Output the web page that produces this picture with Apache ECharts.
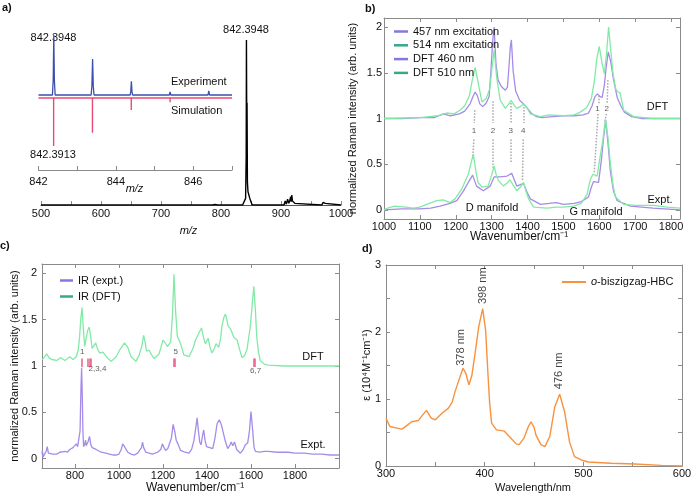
<!DOCTYPE html>
<html><head><meta charset="utf-8">
<script src="https://cdn.jsdelivr.net/npm/echarts@6/dist/echarts.min.js"></script>
<style>html,body{margin:0;padding:0;background:#fff}#c{width:692px;height:496px}</style>
</head><body><div id="c"></div>
<script>
const FONT = '"Liberation Sans", Arial, Helvetica, sans-serif';

// ---------- panel a : mass spectrum ----------
const aMain = [[500,0],[643,0],[645,0.008],[647,0],[714,0],[716,0.005],[718,0],[786,0],[788,0.006],[790,0.003],[792,0.006],[794,0],
  [836,0],[839,0.01],[841,0.04],[842,0.3],[842.4,1.0],[843,0.4],[843.4,0.62],[844,0.14],[845,0.08],[846,0.07],[848,0.04],[850,0.02],[852,0],
  [905,0],[907,0.025],[909,0.005],[911,0.035],[913,0.01],[915,0.03],[916,0.05],[917,0.02],[918,0.06],[919,0.025],[921,0.03],[923,0.01],[925,0],
  [968,0],[970,0.015],[972,0.005],[974,0.01],[976,0],[1000,0]];
const aExp = [[842,0],[842.36,0],[842.38,0.25],[842.395,1.0],[842.41,0.25],[842.43,0],
  [843.36,0],[843.38,0.15],[843.398,0.6],[843.415,0.15],[843.435,0],
  [844.37,0],[844.385,0.06],[844.40,0.23],[844.415,0.06],[844.43,0],
  [845.38,0],[845.40,0.05],[845.42,0],[846.38,0],[846.40,0.07],[846.42,0],[847,0]];
const aSimMz = [842.391, 843.394, 844.397, 845.400];
const aSimInt = [0.80, 0.58, 0.20, 0.07];
const aSimBase = -0.05;
const aMainTicks = [500,550,600,650,700,750,800,850,900,950,1000];
const aMainLabels = [500,600,700,800,900,1000];
const aInsetTicks = [842,843,844,845,846,847];
const aInsetLabels = [842,844,846];

// ---------- panel b : Raman ----------
const bDft460 = [[1000,1.00],[1050,1.00],[1100,1.01],[1140,1.01],[1165,1.05],[1185,1.03],[1210,1.05],[1225,1.08],[1240,1.16],[1248,1.24],
  [1254,1.29],[1260,1.25],[1267,1.16],[1275,1.13],[1285,1.17],[1293,1.24],[1298,1.52],[1303,1.85],[1307,2.00],[1312,1.60],
  [1318,1.42],[1327,1.35],[1338,1.31],[1344,1.34],[1348,1.55],[1352,1.78],[1355,1.86],[1360,1.52],[1367,1.30],[1378,1.20],
  [1389,1.16],[1398,1.12],[1410,1.06],[1425,1.02],[1440,1.01],[1470,1.02],[1500,1.03],[1530,1.03],[1555,1.04],[1570,1.06],
  [1580,1.14],[1588,1.24],[1595,1.27],[1602,1.24],[1608,1.23],[1614,1.36],[1619,1.55],[1625,1.73],[1632,1.62],[1640,1.42],
  [1650,1.23],[1660,1.14],[1670,1.07],[1690,1.02],[1720,1.00],[1825,1.00]];
const bDft510 = [[1000,1.00],[1100,1.01],[1150,1.03],[1175,1.06],[1195,1.05],[1212,1.09],[1225,1.14],[1238,1.25],[1246,1.42],[1254,1.56],
  [1262,1.40],[1273,1.18],[1285,1.22],[1295,1.33],[1301,1.55],[1307,1.75],[1314,1.45],[1324,1.20],[1338,1.11],[1348,1.16],
  [1354,1.20],[1362,1.15],[1370,1.11],[1380,1.13],[1389,1.16],[1398,1.12],[1408,1.05],[1436,1.02],[1460,1.04],[1500,1.03],
  [1530,1.04],[1547,1.07],[1565,1.12],[1578,1.22],[1586,1.40],[1593,1.65],[1600,1.79],[1607,1.62],[1614,1.49],[1620,1.70],
  [1626,2.00],[1632,1.75],[1638,1.50],[1646,1.32],[1652,1.29],[1658,1.28],[1668,1.09],[1696,1.02],[1750,1.00],[1825,1.00]];
const b457 = [[1000,0.00],[1050,0.01],[1100,0.01],[1130,0.02],[1156,0.04],[1184,0.07],[1203,0.10],[1222,0.21],[1235,0.30],[1247,0.38],
  [1258,0.26],[1277,0.21],[1296,0.26],[1307,0.36],[1324,0.36],[1343,0.37],[1356,0.40],[1370,0.26],[1382,0.28],[1389,0.29],
  [1400,0.18],[1408,0.12],[1436,0.06],[1460,0.07],[1480,0.08],[1500,0.06],[1530,0.07],[1550,0.09],[1570,0.14],[1578,0.25],
  [1584,0.31],[1598,0.30],[1606,0.55],[1612,0.79],[1618,0.98],[1625,0.70],[1631,0.42],[1640,0.20],[1650,0.10],[1687,0.04],
  [1750,0.02],[1825,0.00]];
const b514 = [[1000,0.00],[1010,0.02],[1030,0.04],[1060,0.03],[1082,0.02],[1100,0.03],[1119,0.06],[1147,0.10],[1165,0.11],[1184,0.08],
  [1198,0.12],[1217,0.23],[1235,0.39],[1243,0.52],[1249,0.61],[1255,0.45],[1262,0.30],[1273,0.25],[1290,0.26],[1300,0.38],
  [1307,0.48],[1313,0.38],[1319,0.32],[1333,0.26],[1345,0.30],[1351,0.33],[1360,0.27],[1370,0.21],[1380,0.25],[1389,0.30],
  [1396,0.20],[1403,0.12],[1417,0.03],[1454,0.02],[1480,0.03],[1500,0.03],[1528,0.04],[1550,0.07],[1566,0.17],[1575,0.33],
  [1582,0.39],[1594,0.37],[1603,0.60],[1610,0.76],[1617,0.99],[1624,0.80],[1631,0.50],[1638,0.28],[1645,0.14],[1668,0.06],
  [1700,0.05],[1750,0.05],[1790,0.03],[1825,0.02]];
const bGuide = [[1253,1.09,1251.5,0.95],[1250.5,0.77,1247.5,0.56],[1304,1.19,1304,0.95],[1304,0.77,1304,0.46],
  [1353,1.17,1353,0.95],[1353,0.77,1353,0.52],[1389,1.16,1388.5,0.95],[1388,0.77,1386,0.32],
  [1598.5,1.25,1597.5,1.16],[1596.5,1.05,1586,0.41],[1624,1.42,1622,1.16],[1620,1.05,1615,0.96]];
const bModeLabels = [[1251,0.86,'1'],[1304,0.86,'2'],[1353,0.86,'3'],[1388,0.86,'4'],[1595,1.11,'1'],[1620.6,1.11,'2']];
const bXTicks = [1000,1100,1200,1300,1400,1500,1600,1700,1800];
const bYTicks = [0,0.5,1,1.5,2];

// ---------- panel c : IR ----------
const cDft = [[650,1.07],[660,1.09],[671,1.13],[682,1.09],[694,1.07],[717,1.06],[734,1.09],[754,1.06],[776,1.10],[791,1.07],
  [806,1.10],[815,1.18],[821,1.32],[826,1.50],[832,1.63],[838,1.40],[844,1.21],[849,1.28],[857,1.38],[865,1.42],
  [871,1.32],[878,1.19],[886,1.22],[894,1.25],[903,1.18],[912,1.14],[927,1.15],[942,1.10],[964,1.05],[987,1.10],
  [1005,1.18],[1025,1.25],[1040,1.20],[1055,1.10],[1077,1.05],[1092,1.12],[1104,1.22],[1112,1.33],[1120,1.24],[1125,1.16],
  [1137,1.17],[1148,1.12],[1160,1.08],[1182,1.13],[1193,1.22],[1200,1.28],[1210,1.25],[1220,1.21],[1235,1.26],[1243,1.55],
  [1250,1.99],[1257,1.60],[1265,1.32],[1280,1.24],[1295,1.12],[1318,1.10],[1335,1.18],[1348,1.28],[1362,1.35],[1375,1.41],
  [1385,1.30],[1393,1.24],[1405,1.30],[1414,1.20],[1423,1.14],[1435,1.20],[1441,1.24],[1453,1.20],[1462,1.30],[1468,1.43],
  [1476,1.52],[1484,1.56],[1490,1.50],[1496,1.43],[1507,1.40],[1522,1.31],[1537,1.28],[1548,1.18],[1559,1.09],[1570,1.11],
  [1582,1.18],[1597,1.43],[1605,1.65],[1613,1.86],[1620,1.60],[1626,1.32],[1634,1.15],[1642,1.06],[1660,1.02],[1679,1.01],
  [1750,1.00],[1850,1.00],[2000,1.00]];
const cExp = [[650,0.05],[652,0.09],[655,0.02],[664,0.04],[669,0.08],[674,0.13],[679,0.06],[686,0.04],[700,0.05],[717,0.05],
  [731,0.07],[740,0.05],[754,0.08],[765,0.07],[776,0.10],[791,0.12],[800,0.12],[806,0.16],[812,0.13],[818,0.12],
  [823,0.30],[827,0.75],[830,0.98],[833,0.70],[836,0.30],[839,0.13],[844,0.16],[848,0.20],[851,0.14],[854,0.12],
  [859,0.18],[866,0.24],[872,0.15],[878,0.12],[887,0.13],[896,0.10],[905,0.09],[919,0.07],[940,0.06],[957,0.05],
  [975,0.04],[987,0.04],[1000,0.05],[1010,0.10],[1017,0.16],[1025,0.13],[1040,0.07],[1055,0.05],[1070,0.04],[1085,0.06],
  [1092,0.07],[1102,0.12],[1107,0.18],[1112,0.12],[1122,0.07],[1137,0.06],[1152,0.05],[1175,0.07],[1190,0.10],[1197,0.16],
  [1205,0.12],[1212,0.09],[1222,0.11],[1230,0.13],[1238,0.22],[1246,0.37],[1253,0.30],[1260,0.20],[1268,0.16],[1280,0.09],
  [1300,0.07],[1318,0.06],[1330,0.10],[1341,0.20],[1350,0.35],[1355,0.44],[1361,0.30],[1367,0.18],[1373,0.15],[1379,0.24],
  [1385,0.31],[1391,0.20],[1398,0.13],[1412,0.12],[1426,0.11],[1436,0.22],[1446,0.38],[1456,0.42],[1466,0.36],[1474,0.34],
  [1482,0.20],[1494,0.11],[1503,0.14],[1510,0.18],[1517,0.14],[1525,0.18],[1535,0.10],[1552,0.06],[1565,0.10],[1574,0.15],
  [1585,0.17],[1593,0.30],[1600,0.51],[1607,0.32],[1614,0.12],[1620,0.08],[1640,0.07],[1660,0.08],[1679,0.08],[1720,0.07],
  [1769,0.07],[1800,0.06],[1844,0.06],[1880,0.05],[1920,0.05],[1960,0.04],[2000,0.04]];
const cModeW = [832,859,865,871,1248,1252,1611,1615];
const cModeLo = 0.99, cModeHi = 1.08;
const cModeLabels = [[833,1.15,'1'],[1258,1.15,'5'],[902,0.97,'2,3,4'],[1621,0.95,'6,7']];
const cXTicks = [800,1000,1200,1400,1600,1800];
const cYTicks = [0,0.5,1,1.5,2];

// ---------- panel d : UV-vis ----------
const dAbs = [[300,0.71],[304,0.59],[310,0.57],[316,0.55],[319,0.58],[326,0.66],[333,0.68],[336,0.74],[341,0.83],[346,0.71],
  [350,0.69],[357,0.79],[363,0.86],[367,0.95],[370,1.11],[375,1.33],[378,1.46],[381,1.38],[384,1.21],[387,1.35],
  [390,1.65],[394,2.08],[398,2.35],[401,2.02],[403,1.46],[405,0.95],[407,0.64],[412,0.54],[420,0.52],[425,0.44],
  [432,0.33],[435,0.32],[440,0.42],[444,0.58],[447,0.66],[450,0.58],[452,0.46],[457,0.32],[461,0.29],[466,0.44],
  [471,0.88],[476,1.07],[481,0.81],[486,0.36],[491,0.14],[498,0.09],[505,0.06],[528,0.04],[552,0.03],[579,0.01],[600,0.0]];
const dPeakLabels = [[376,1.77,'378 nm'],[397.8,2.69,'398 nm'],[475.8,1.42,'476 nm']];
const dXTicks = [300,350,400,450,500,550,600];
const dXLabels = [300,400,500,600];
const dYTicks = [0,0.5,1,1.5,2,2.5,3];
const dYLabels = [0,1,2,3];

// ---------- colours ----------
const PURPLE = '#a58ce8', GREEN = '#82eaa6', ORANGE = '#f7923f';
const PURPLE_LEG = '#8676e2', GREEN_LEG = '#38a88a';
const AX = '#8a8a8a';

// ---------- builders ----------
const simLine = [[842, aSimBase]];
aSimMz.forEach((m, i) => { simLine.push([m, aSimBase], [m, aSimBase - aSimInt[i]], [m, aSimBase]); });
simLine.push([847, aSimBase]);

const plain = v => String(v);
function lab(values, margin) {
  return { show: true, customValues: values, fontSize: 11, color: '#111', fontFamily: FONT, margin, formatter: plain };
}
function xAx(grid, min, max, ticks, labels, opt = {}) {
  return Object.assign({
    gridIndex: grid, type: 'value', min, max, position: 'bottom',
    axisLine: { show: true, onZero: false, lineStyle: { color: AX, width: 1 } },
    axisTick: { show: true, inside: true, length: 4, customValues: ticks, lineStyle: { color: AX } },
    axisLabel: labels ? lab(labels, 3) : { show: false },
    splitLine: { show: false }
  }, opt);
}
function yAx(grid, min, max, ticks, labels, opt = {}) {
  return Object.assign({
    gridIndex: grid, type: 'value', min, max, position: 'left',
    axisLine: { show: true, onZero: false, lineStyle: { color: AX, width: 1 } },
    axisTick: { show: true, inside: true, length: 4, customValues: ticks, lineStyle: { color: AX } },
    axisLabel: labels ? lab(labels, 4) : { show: false },
    splitLine: { show: false }
  }, opt);
}
function line(name, data, xi, yi, color, width, z) {
  return { name, type: 'line', data, xAxisIndex: xi, yAxisIndex: yi, symbol: 'none', showSymbol: false,
    lineStyle: { color, width }, itemStyle: { color }, z: z || 2, silent: true, animation: false };
}
function txt(x, y, text, o = {}) {
  return { type: 'text', x, y, rotation: o.rot || 0, silent: true,
    style: { text, fill: o.color || '#111', font: (o.style || '') + ' ' + (o.weight || 'normal') + ' ' + (o.size || 11) + 'px ' + FONT,
      align: o.align || 'center', verticalAlign: 'middle' } };
}
function labelSeries(data, xi, yi, size, color, rot) {
  return { type: 'scatter', xAxisIndex: xi, yAxisIndex: yi, data, symbolSize: 1, itemStyle: { color: 'rgba(0,0,0,0)' },
    silent: true, animation: false, z: 5,
    label: { show: true, position: 'inside', formatter: p => p.value[2], fontSize: size, color, fontFamily: FONT, rotate: rot || 0 } };
}
function legItem(name, color) {
  return { name, icon: 'rect', itemStyle: { color, borderWidth: 0 } };
}

const option = {
  animation: false,
  backgroundColor: '#fff',
  grid: [
    { left: 41, top: 40, width: 300, height: 165, outerBoundsMode: 'none' },
    { left: 38.5, top: 20, width: 193.5, height: 150, outerBoundsMode: 'none' },
    { left: 384, top: 18, width: 296, height: 201, outerBoundsMode: 'none' },
    { left: 42, top: 264, width: 297, height: 204, outerBoundsMode: 'none' },
    { left: 386, top: 265, width: 296, height: 201, outerBoundsMode: 'none' }
  ],
  xAxis: [
    xAx(0, 500, 1000, aMainTicks, aMainLabels, { axisLine: { show: true, onZero: false, lineStyle: { color: '#555' } } }),
    xAx(1, 842, 847, aInsetTicks, aInsetLabels, { axisLabel: lab(aInsetLabels, 6) }),
    xAx(2, 1000, 1825, bXTicks, bXTicks, { axisLabel: lab(bXTicks, 2) }),
    xAx(2, 1000, 1825, bXTicks, null, { position: 'top' }),
    xAx(3, 650, 2000, cXTicks, cXTicks, { axisLabel: lab(cXTicks, 2) }),
    xAx(3, 650, 2000, cXTicks, null, { position: 'top' }),
    xAx(4, 300, 600, dXTicks, dXLabels, { axisLabel: lab(dXLabels, 2) }),
    xAx(4, 300, 600, dXTicks, null, { position: 'top' })
  ],
  yAxis: [
    { gridIndex: 0, type: 'value', min: 0, max: 1, show: false },
    { gridIndex: 1, type: 'value', min: -1.25, max: 1.25, show: false },
    yAx(2, -0.1, 2.1, bYTicks, bYTicks, { axisLabel: lab(bYTicks, 2) }),
    yAx(2, -0.1, 2.1, bYTicks, null, { position: 'right' }),
    yAx(3, -0.1, 2.1, cYTicks, cYTicks, { axisLabel: lab(cYTicks, 5) }),
    yAx(3, -0.1, 2.1, cYTicks, null, { position: 'right' }),
    yAx(4, 0, 3, dYTicks, dYLabels, { axisLabel: lab(dYLabels, 5) }),
    yAx(4, 0, 3, dYTicks, null, { position: 'right' })
  ],
  legend: [
    { left: 389, top: 21, orient: 'vertical', itemWidth: 14, itemHeight: 2.5, itemGap: 2.8,
      textStyle: { fontSize: 11, color: '#111', fontFamily: FONT, lineHeight: 10 },
      data: [legItem('457 nm excitation', PURPLE_LEG), legItem('514 nm excitation', GREEN_LEG),
             legItem('DFT 460 nm', PURPLE_LEG), legItem('DFT 510 nm', GREEN_LEG)] },
    { left: 55, top: 270, orient: 'vertical', itemWidth: 13, itemHeight: 2.5, itemGap: 5,
      textStyle: { fontSize: 11, color: '#111', fontFamily: FONT, lineHeight: 10 },
      data: [legItem('IR (expt.)', PURPLE_LEG), legItem('IR (DFT)', GREEN_LEG)] },
    { left: 557, top: 271, orient: 'vertical', itemWidth: 24, itemHeight: 2,
      textStyle: { fontSize: 11, color: '#111', fontFamily: FONT, lineHeight: 12,
        rich: { i: { fontStyle: 'italic', fontSize: 11, fontFamily: FONT, color: '#111' }, n: { fontSize: 11, fontFamily: FONT, color: '#111' } } },
      formatter: () => '{i|o}{n|-biszigzag-HBC}',
      data: [legItem('o-biszigzag-HBC', ORANGE)] }
  ],
  series: [
    // a
    line('MS', aMain, 0, 0, '#000', 1.4),
    line('Experiment', aExp, 1, 1, '#3d4fae', 1.3, 3),
    line('Simulation', simLine, 1, 1, '#e84a78', 1.4, 3),
    // b
    line('457 nm excitation', b457, 2, 2, PURPLE, 1.3),
    line('514 nm excitation', b514, 2, 2, GREEN, 1.3),
    line('DFT 460 nm', bDft460, 2, 2, PURPLE, 1.3),
    line('DFT 510 nm', bDft510, 2, 2, GREEN, 1.3),
    { type: 'lines', coordinateSystem: 'cartesian2d', xAxisIndex: 2, yAxisIndex: 2, silent: true, animation: false, z: 1,
      lineStyle: { color: '#a8a8a8', width: 1.5, type: 'dotted', opacity: 1 },
      data: bGuide.map(g => ({ coords: [[g[0], g[1]], [g[2], g[3]]] })) },
    labelSeries(bModeLabels, 2, 2, 8, '#333'),
    // c
    line('IR (expt.)', cExp, 4, 4, PURPLE, 1.3),
    line('IR (DFT)', cDft, 4, 4, GREEN, 1.3),
    { type: 'lines', coordinateSystem: 'cartesian2d', xAxisIndex: 4, yAxisIndex: 4, silent: true, animation: false, z: 4,
      lineStyle: { color: '#e8608a', width: 1.5, opacity: 1 },
      data: cModeW.map(w => ({ coords: [[w, cModeLo], [w, cModeHi]] })) },
    labelSeries(cModeLabels, 4, 4, 8, '#333'),
    // d
    line('o-biszigzag-HBC', dAbs, 6, 6, ORANGE, 1.4),
    labelSeries(dPeakLabels, 6, 6, 11, '#111', 90)
  ],
  graphic: { elements: [
    txt(2, 8, 'a)', { weight: 'bold', align: 'left' }),
    txt(365, 9, 'b)', { weight: 'bold', align: 'left' }),
    txt(0, 246, 'c)', { weight: 'bold', align: 'left' }),
    txt(362, 249, 'd)', { weight: 'bold', align: 'left' }),
    txt(246, 30, '842.3948'),
    txt(53.5, 37.5, '842.3948'),
    txt(53, 155, '842.3913'),
    txt(171, 82, 'Experiment', { align: 'left' }),
    txt(171, 111, 'Simulation', { align: 'left' }),
    txt(134.5, 189, 'm/z', { style: 'italic' }),
    txt(188.5, 231, 'm/z', { style: 'italic' }),
    txt(352.5, 118.5, 'normalized Raman intensity (arb. units)', { rot: Math.PI / 2 }),
    txt(519, 237, 'Wavenumber/cm⁻¹', { size: 12 }),
    txt(657.5, 107, 'DFT'),
    txt(660, 200, 'Expt.'),
    txt(492, 208, 'D manifold'),
    txt(596, 212, 'G manifold'),
    txt(15, 366, 'normalized Raman intensity (arb. units)', { rot: Math.PI / 2 }),
    txt(195, 488, 'Wavenumber/cm⁻¹', { size: 12 }),
    txt(313, 357, 'DFT'),
    txt(313, 445, 'Expt.'),
    txt(366.5, 365, 'ε (10⁴M⁻¹cm⁻¹)', { rot: Math.PI / 2 }),
    txt(533, 488, 'Wavelength/nm')
  ] }
};

const chart = echarts.init(document.getElementById('c'), null, { renderer: 'canvas', width: 692, height: 496 });
chart.setOption(option);
</script></body></html>
